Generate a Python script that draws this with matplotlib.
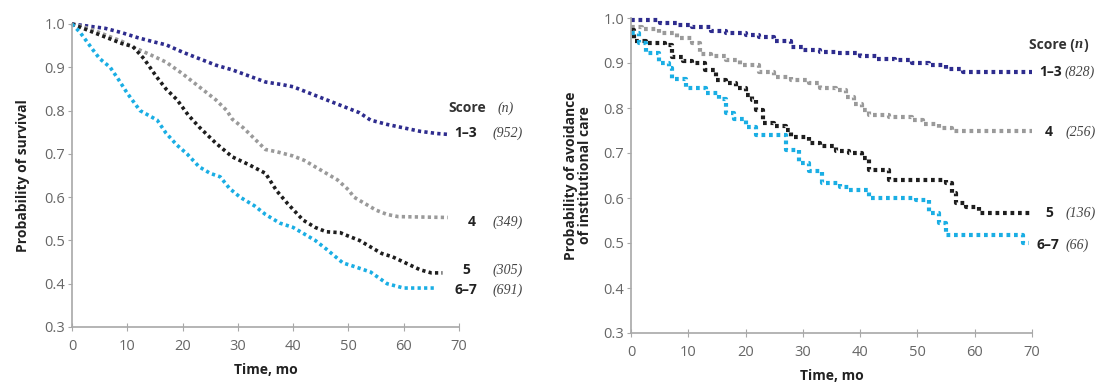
import matplotlib
matplotlib.use("Agg")
import matplotlib.pyplot as plt

# ---------------- data ----------------
# Left panel: Probability of survival
L13_t = [0, 3, 6, 9, 12, 15, 17, 20, 23, 26, 29, 32, 35, 38, 40, 43, 46, 49, 52, 54, 57, 60, 63, 66, 68]
L13_s = [1.0, 0.995, 0.99, 0.98, 0.968, 0.958, 0.952, 0.935, 0.92, 0.905, 0.894, 0.88, 0.866, 0.86, 0.855,
         0.84, 0.825, 0.81, 0.795, 0.778, 0.768, 0.76, 0.752, 0.747, 0.745]
L4_t = [0, 3, 6, 9, 11, 14, 17, 20, 23, 26, 28, 29, 31, 33, 35, 37, 40, 42, 44, 46, 48, 50, 51, 53, 55, 57, 59, 68]
L4_s = [1.0, 0.99, 0.975, 0.96, 0.947, 0.93, 0.912, 0.885, 0.855, 0.825, 0.80, 0.78, 0.76, 0.735, 0.71, 0.705,
        0.695, 0.685, 0.67, 0.655, 0.64, 0.617, 0.60, 0.585, 0.57, 0.56, 0.555, 0.553]
L5_t = [0, 3, 6, 9, 11, 13, 15.3, 17, 19, 21, 23, 26, 29, 32, 35, 37, 39, 41.8, 44, 46, 48.5, 50, 52, 54, 56,
        58, 60, 63, 65, 67]
L5_s = [1.0, 0.985, 0.97, 0.955, 0.948, 0.92, 0.878, 0.85, 0.825, 0.79, 0.762, 0.725, 0.693, 0.675, 0.655,
        0.615, 0.585, 0.547, 0.53, 0.52, 0.518, 0.51, 0.50, 0.485, 0.47, 0.462, 0.45, 0.432, 0.425, 0.425]
L67_t = [0, 1.5, 3.8, 5, 6.9, 8.5, 10, 12.3, 15.4, 17, 19, 20.8, 23, 25, 26.8, 28.5, 30.4, 33, 35, 37.6, 40,
         42, 44, 46, 49, 51, 54, 57, 60, 66]
L67_s = [1.0, 0.98, 0.94, 0.92, 0.90, 0.87, 0.84, 0.80, 0.778, 0.748, 0.72, 0.70, 0.67, 0.655, 0.647, 0.62,
         0.60, 0.58, 0.56, 0.54, 0.53, 0.515, 0.50, 0.48, 0.448, 0.44, 0.427, 0.40, 0.39, 0.39]

# Right panel: Probability of avoidance of institutional care
R13_t = [0, 5, 8, 10.7, 14, 16.6, 20, 22.4, 25, 28, 30, 33, 35.8, 40, 43, 46, 49, 52, 55, 57.9, 70]
R13_s = [0.995, 0.99, 0.985, 0.98, 0.972, 0.967, 0.962, 0.958, 0.95, 0.936, 0.93, 0.925, 0.922, 0.915, 0.91,
         0.907, 0.90, 0.895, 0.887, 0.88, 0.88]
R4_t = [0, 2, 4.9, 8, 10.7, 12, 14, 16.6, 19, 22.4, 25, 28, 31, 33, 35.8, 37.5, 39, 40.4, 41.6, 45, 49, 51,
        53.8, 56, 70]
R4_s = [0.98, 0.975, 0.967, 0.955, 0.944, 0.92, 0.915, 0.907, 0.895, 0.88, 0.87, 0.862, 0.855, 0.845, 0.84,
        0.825, 0.81, 0.796, 0.785, 0.78, 0.773, 0.765, 0.755, 0.75, 0.75]
R5_t = [0, 0.5, 2.6, 6, 7.2, 9, 10.7, 13, 14.8, 16.5, 18.3, 20, 21.2, 21.8, 23, 25, 27, 28, 31, 33, 35.8, 38,
        40.4, 41.6, 45, 55, 56, 56.8, 58.5, 60.8, 70]
R5_s = [0.973, 0.95, 0.944, 0.94, 0.913, 0.905, 0.90, 0.884, 0.862, 0.855, 0.844, 0.83, 0.818, 0.796, 0.767,
        0.76, 0.751, 0.736, 0.722, 0.715, 0.705, 0.70, 0.69, 0.662, 0.64, 0.633, 0.611, 0.589, 0.58, 0.567,
        0.567]
R67_t = [0, 1.4, 2.6, 4.9, 6.6, 7.2, 9.6, 13.1, 15.4, 16.6, 18, 20, 21.8, 27, 29.4, 31, 33.4, 36.4, 38, 41.6,
         49.8, 52, 53.8, 55, 68.4, 69.5]
R67_s = [0.967, 0.944, 0.922, 0.90, 0.89, 0.864, 0.844, 0.833, 0.82, 0.789, 0.775, 0.758, 0.74, 0.707, 0.678,
         0.66, 0.633, 0.624, 0.618, 0.60, 0.596, 0.567, 0.544, 0.518, 0.50, 0.50]

groups = ["1–3", "4", "5", "6–7"]
left_n = ["(952)", "(349)", "(305)", "(691)"]
right_n = ["(828)", "(256)", "(136)", "(66)"]
x_ticks = [0, 10, 20, 30, 40, 50, 60, 70]
y_ticks = [0.3, 0.4, 0.5, 0.6, 0.7, 0.8, 0.9, 1.0]

colors = ["#2E2C8E", "#9A9A9A", "#1E1E1E", "#1AAEE4"]

# ---------------- figure ----------------
fig = plt.figure(figsize=(11.08, 3.87), dpi=100)
SANS = "Open Sans"
SERIF = "Liberation Serif"
axL = fig.add_axes([72 / 1108, 1 - 327 / 387, (459 - 72) / 1108, (327 - 24) / 387])
axR = fig.add_axes([631 / 1108, 1 - 333 / 387, (1032 - 631) / 1108, (333 - 18) / 387])


def style(ax):
    ax.set_xlim(0, 70)
    ax.set_ylim(0.3, 1.0)
    for s in ("top", "right"):
        ax.spines[s].set_visible(False)
    for s in ("left", "bottom"):
        ax.spines[s].set_color("#A8A8A8")
        ax.spines[s].set_linewidth(1.2)
    ax.set_xticks(x_ticks)
    ax.set_yticks(y_ticks)
    ax.set_yticklabels([f"{v:.1f}" for v in y_ticks])
    ax.tick_params(axis="x", direction="inout", length=6, color="#A8A8A8", labelcolor="#666666",
                   labelsize=10.5, pad=6)
    ax.tick_params(axis="y", direction="out", length=3, color="#A8A8A8", labelcolor="#666666",
                   labelsize=10.5, pad=2)
    for lab in ax.get_xticklabels() + ax.get_yticklabels():
        lab.set_family(SANS)
    ax.set_xlabel("Time, mo", fontsize=10, fontweight="bold", family=SANS, color="#222222", labelpad=6)


style(axL)
style(axR)

left_series = [(L13_t, L13_s), (L4_t, L4_s), (L5_t, L5_s), (L67_t, L67_s)]
right_series = [(R13_t, R13_s), (R4_t, R4_s), (R5_t, R5_s), (R67_t, R67_s)]

for (t, s), c in zip(left_series, colors):
    axL.plot(t, s, color=c, lw=2.6, linestyle=(0, (0.9, 0.9)),
             dash_capstyle="butt", clip_on=False)
for (t, s), c in zip(right_series, colors):
    axR.plot(t, s, drawstyle="steps-post", color=c, lw=3.0, linestyle=(0, (0.9, 0.9)),
             dash_capstyle="butt", clip_on=False)

axL.set_ylabel("Probability of survival", fontsize=10, fontweight="bold", family=SANS,
               color="#222222", labelpad=10)
axR.set_ylabel("Probability of avoidance\nof institutional care", fontsize=10, fontweight="bold",
               family=SANS, color="#222222", labelpad=8, linespacing=1.0)


def chain(ax, prev, txt, **kw):
    return ax.annotate(txt, xy=(1, 0.5), xycoords=prev, xytext=(0, 0), textcoords="offset points",
                       ha="left", va="center", annotation_clip=False, **kw)


# ---- annotations left ----
t1 = axL.text(68.0, 0.806, "Score", fontsize=10, fontweight="bold", family=SANS, color="#333333",
              ha="left", va="center", clip_on=False)
axL.text(77.0, 0.806, "(n)", fontsize=10, style="italic", family=SERIF, color="#444444",
         ha="left", va="center", clip_on=False)
left_lab_y = [0.748, 0.543, 0.432, 0.386]
left_lab_x = [69.2, 71.5, 70.6, 69.2]
for g, n, y, x in zip(groups, left_n, left_lab_y, left_lab_x):
    axL.text(x, y, g, fontsize=10, fontweight="bold", family=SANS, color="#222222",
             ha="left", va="center", clip_on=False)
    axL.text(76.0, y, n, fontsize=10, style="italic", family=SERIF, color="#444444",
             ha="left", va="center", clip_on=False)

# ---- annotations right ----
r1 = axR.text(69.5, 0.94, "Score (", fontsize=10, fontweight="bold", family=SANS, color="#333333",
              ha="left", va="center", clip_on=False)
r2 = chain(axR, r1, "n", fontsize=10.5, fontweight="bold", style="italic", family=SERIF, color="#333333")
chain(axR, r2, ")", fontsize=10, fontweight="bold", family=SANS, color="#333333")
right_lab_y = [0.88, 0.747, 0.567, 0.496]
right_lab_x = [71.2, 72.3, 72.3, 70.7]
right_n_x = [75.7, 75.9, 75.9, 75.9]
for g, n, y, x, nx in zip(groups, right_n, right_lab_y, right_lab_x, right_n_x):
    axR.text(x, y, g, fontsize=10, fontweight="bold", family=SANS, color="#222222",
             ha="left", va="center", clip_on=False)
    axR.text(nx, y, n, fontsize=10, style="italic", family=SERIF, color="#444444",
             ha="left", va="center", clip_on=False)

fig.savefig("out.png", dpi=100)
